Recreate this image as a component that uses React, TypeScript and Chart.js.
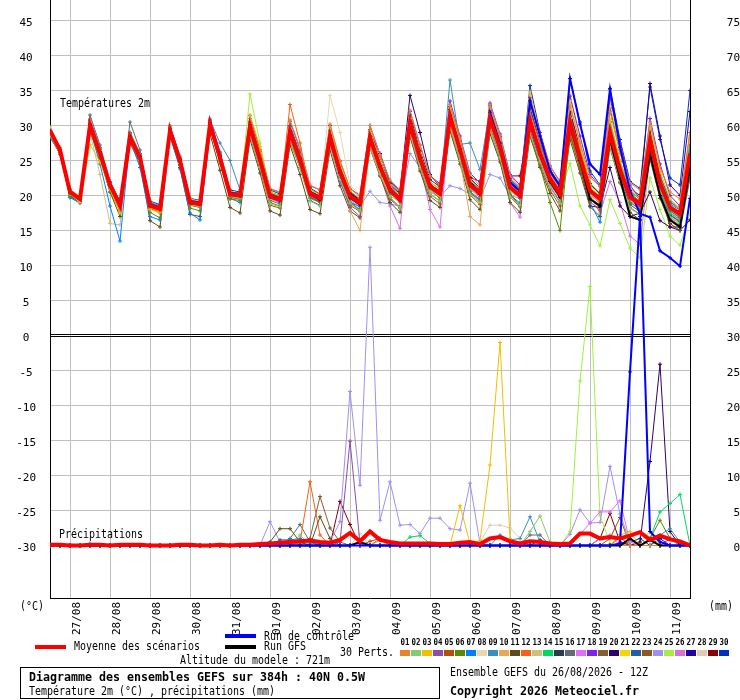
import { useEffect, useRef } from 'react';
import { Chart, registerables } from 'chart.js';

Chart.register(...registerables);

const FONT = '"DejaVu Sans Mono", "Liberation Mono", monospace';

// forecast steps (hours after 26/08 12Z)
const hours = [
  0, 6, 12, 18, 24, 30, 36, 42, 48, 54, 60, 66, 72, 78, 84, 90,
  96, 102, 108, 114, 120, 126, 132, 138, 144, 150, 156, 162, 168, 174, 180, 186,
  192, 198, 204, 210, 216, 222, 228, 234, 240, 246, 252, 258, 264, 270, 276, 282,
  288, 294, 300, 306, 312, 318, 324, 330, 336, 342, 348, 354, 360, 366, 372, 378,
  384,
];
const dayHours = [12, 36, 60, 84, 108, 132, 156, 180, 204, 228, 252, 276, 300, 324, 348, 372];
const dayLabels = ['27/08', '28/08', '29/08', '30/08', '31/08', '01/09', '02/09', '03/09',
  '04/09', '05/09', '06/09', '07/09', '08/09', '09/09', '10/09', '11/09'];
const tempTicks = [-30, -25, -20, -15, -10, -5, 0, 5, 10, 15, 20, 25, 30, 35, 40, 45];
const precipTicks = [0, 5, 10, 15, 20, 25, 30, 35, 40, 45, 50, 55, 60, 65, 70, 75];

// 2m temperature (°C)
const tMean = [
  29.3,26.5,20.5,19.5, 30.0,26.0,21.5,18.6, 28.3,25.4,18.6,18.1, 29.3,25.0,19.0,18.8,
  30.2,25.4,20.2,20.0, 29.9,25.1,19.9,19.4, 29.1,25.1,20.3,19.6, 28.4,23.4,19.9,18.9,
  28.3,24.1,20.8,19.4, 30.3,25.3,21.3,20.3, 31.3,26.5,21.5,20.3, 31.0,26.9,21.2,20.0,
  30.7,26.0,22.4,20.2, 30.5,25.5,20.7,19.5, 29.0,23.6,19.8,18.8, 27.9,21.7,18.3,17.4,
  26.0,
];
const tCtrl = [
  29.2,26.5,20.5,19.5, 30.2,26.2,21.6,18.8, 28.5,25.6,18.8,18.3, 29.5,25.2,19.2,19.0,
  30.4,25.6,20.4,20.2, 30.1,25.3,20.1,19.6, 29.3,25.3,20.5,19.8, 28.6,23.6,20.1,19.1,
  28.5,24.3,21.0,19.6, 30.5,25.5,21.5,20.5, 31.5,26.7,21.7,20.5, 31.9,27.5,21.9,20.6,
  33.5,28.5,23.5,21.3, 36.7,30.2,24.5,23.0, 35.2,26.9,20.7,17.4, 16.9,12.1,11.1,9.9,
  19.6,
];
const tGfs = [
  29.2,26.4,20.4,19.5, 30.1,26.1,21.4,18.5, 28.3,25.4,18.5,18.0, 29.2,24.9,18.9,18.7,
  30.1,25.3,20.1,19.9, 29.8,25.0,19.8,19.3, 29.0,25.0,20.2,19.4, 28.2,23.2,19.7,18.7,
  28.2,24.0,20.7,19.3, 30.2,25.2,21.2,20.2, 31.2,26.4,21.4,20.2, 30.9,26.8,21.1,19.9,
  30.3,25.8,22.0,19.8, 30.0,25.0,19.5,18.5, 28.0,22.5,17.0,16.5, 26.0,20.0,16.5,15.5,
  24.0,
];
const t01 = [
  29.5,26.8,20.3,19.8, 30.8,26.5,21.0,18.0, 28.8,25.9,18.2,17.8, 29.6,25.3,19.4,19.0,
  30.6,25.0,20.6,20.2, 31.0,26.3,21.0,20.5, 30.8,26.8,21.5,20.8, 30.2,25.0,21.0,19.8,
  30.0,25.8,22.2,20.8, 32.2,27.2,22.8,21.5, 33.0,28.2,23.0,21.3, 33.0,28.6,22.8,21.2,
  33.5,28.4,24.3,21.8, 32.8,27.6,22.6,21.3, 32.0,26.0,21.8,20.8, 30.5,24.0,20.5,19.5,
  29.0,
];
const t02 = [
  29.0,26.3,20.7,19.3, 29.4,25.7,21.3,18.3, 28.0,25.1,18.9,18.4, 29.1,24.6,18.7,18.4,
  29.8,25.1,19.9,19.6, 28.5,24.0,18.8,18.4, 27.8,23.9,19.2,18.5, 27.0,22.3,18.9,17.8,
  26.8,23.0,19.8,18.2, 28.8,24.0,20.2,19.2, 29.8,25.0,20.2,19.0, 29.3,25.4,19.8,18.6,
  28.9,24.8,21.2,18.9, 31.2,26.5,21.2,19.0, 27.0,22.0,18.2,17.2, 26.0,20.2,16.8,16.0,
  24.0,
];
const t03 = [
  28.6,26.0,20.2,19.0, 27.3,24.8,20.9,17.5, 27.8,25.0,18.0,17.6, 29.8,25.5,19.5,19.2,
  30.0,25.6,20.4,20.3, 31.5,27.0,20.5,19.9, 29.5,25.3,20.8,20.0, 28.9,24.5,20.7,19.5,
  29.3,25.0,21.4,20.0, 31.0,26.0,21.9,21.0, 32.5,27.5,22.2,20.9, 32.4,28.0,22.0,20.6,
  34.8,28.5,23.0,21.0, 33.5,27.0,21.5,20.0, 30.9,25.0,20.8,19.5, 30.0,23.5,19.5,18.0,
  28.5,
];
const t04 = [
  29.1,26.4,20.9,19.4, 29.8,25.8,21.8,18.9, 28.5,25.7,18.8,18.3, 29.5,25.1,19.2,18.6,
  30.5,25.8,20.1,19.8, 30.1,25.0,20.1,19.3, 28.8,24.4,20.0,19.2, 27.5,22.0,18.3,17.0,
  28.0,24.4,20.4,19.2, 30.1,25.0,21.5,20.5, 31.0,26.3,21.7,19.9, 31.4,27.1,21.5,19.8,
  30.4,26.3,22.0,19.8, 29.8,25.2,20.4,19.2, 28.5,23.3,19.5,18.4, 27.0,21.2,18.0,17.0,
  25.2,
];
const t05 = [
  29.2,26.6,20.4,19.6, 30.3,26.3,21.0,18.2, 27.9,24.9,18.3,17.6, 28.8,24.5,18.6,18.3,
  29.6,24.9,19.7,19.5, 28.6,23.8,18.6,18.2, 27.6,24.0,19.8,19.0, 27.2,22.3,18.6,17.7,
  26.8,22.8,19.5,18.2, 28.6,23.8,19.9,18.8, 29.6,24.9,20.1,18.7, 29.3,25.2,19.8,18.4,
  29.0,24.4,20.8,18.5, 28.6,23.8,19.1,17.9, 27.2,21.9,18.3,17.3, 25.8,20.0,16.7,15.7,
  23.0,
];
const t06 = [
  28.8,26.2,20.0,19.2, 29.2,25.2,20.5,17.8, 28.9,25.6,17.6,16.8, 28.5,24.3,18.2,17.8,
  29.8,24.6,19.5,19.3, 29.0,24.3,19.0,18.5, 28.2,24.0,19.6,19.0, 28.9,23.5,19.0,18.0,
  28.7,24.0,20.2,19.6, 30.5,25.5,21.0,19.5, 31.5,26.6,20.6,19.4, 30.5,26.0,20.2,18.5,
  28.6,24.2,19.0,15.0, 29.0,24.0,19.5,18.7, 28.0,23.0,19.0,18.0, 27.2,21.5,17.8,16.8,
  24.8,
];
const t07 = [
  28.3,26.0,19.7,18.9, 29.5,24.5,18.5,13.5, 28.0,24.0,17.0,16.5, 28.6,23.8,17.5,16.5,
  29.5,25.0,19.6,19.0, 30.5,25.7,20.0,19.0, 29.9,25.4,19.8,19.1, 28.0,23.0,19.0,18.4,
  28.8,24.3,20.5,19.3, 30.6,25.9,21.4,20.6, 31.8,27.0,21.9,20.5, 31.5,27.0,21.3,19.6,
  31.0,26.3,22.2,19.9, 30.0,24.5,19.0,16.2, 29.4,23.9,19.9,19.0, 28.3,22.2,18.8,17.9,
  26.5,
];
const t08 = [
  29.6,26.9,20.6,19.7, 30.4,26.2,21.6,18.8, 28.2,25.3,18.7,18.2, 29.0,24.7,19.1,18.9,
  30.0,25.2,20.3,20.1, 29.6,24.9,19.8,19.5, 28.9,25.0,20.1,19.5, 34.3,29.0,21.5,20.1,
  29.0,24.7,21.1,19.8, 30.0,25.0,21.1,20.2, 30.5,25.8,21.2,20.0, 30.6,26.5,21.6,20.3,
  30.2,25.6,22.6,20.6, 31.0,26.0,21.0,19.8, 28.6,23.4,19.6,18.6, 27.5,21.8,18.6,17.6,
  25.6,
];
const t09 = [
  28.9,26.3,20.3,19.5, 30.2,26.6,21.4,18.5, 28.6,25.8,18.5,18.0, 29.2,24.9,19.3,19.1,
  30.8,27.5,25.0,20.8, 29.7,25.3,20.0,19.6, 29.3,25.6,20.5,19.7, 28.7,23.8,20.1,19.1,
  28.5,24.2,20.9,19.6, 30.4,25.6,21.6,20.4, 36.5,27.3,27.5,23.7, 32.5,27.8,22.1,20.9,
  31.4,26.8,22.9,20.8, 30.8,25.9,21.0,19.9, 29.8,24.3,20.3,19.2, 28.6,22.6,19.0,18.1,
  27.0,
];
const t10 = [
  29.4,26.7,20.8,19.8, 30.6,26.4,21.7,19.0, 28.4,25.5,18.4,17.9, 29.4,25.2,19.0,18.7,
  30.3,25.6,20.0,19.8, 30.0,25.2,20.2,19.7, 29.6,25.8,20.7,20.2, 29.8,24.5,17.8,15.0,
  27.0,23.4,20.0,19.0, 29.9,24.6,20.6,19.8, 30.2,25.0,17.0,15.8, 30.0,26.0,20.6,19.6,
  30.5,25.6,21.8,19.6, 30.2,25.3,20.3,19.0, 28.8,23.5,19.6,18.5, 27.7,21.5,18.1,17.1,
  25.8,
];
const t11 = [
  28.5,25.9,19.8,19.1, 29.6,25.4,20.5,17.0, 27.5,24.6,16.4,15.5, 28.5,24.0,17.3,17.0,
  28.8,23.6,18.3,17.5, 28.0,23.2,17.8,17.2, 27.2,23.0,18.0,17.4, 26.5,21.4,17.8,16.8,
  26.8,22.8,19.0,17.6, 28.4,23.5,19.3,18.3, 29.2,24.5,19.4,18.0, 28.8,24.8,19.0,17.6,
  28.5,24.0,20.3,17.8, 28.0,23.2,18.4,17.0, 26.8,21.8,17.6,16.5, 25.2,19.6,16.0,15.0,
  22.5,
];
const t12 = [
  29.4,26.6,20.6,19.6, 30.3,26.0,21.4,18.7, 28.6,25.6,18.9,18.4, 29.4,25.2,19.2,19.0,
  30.4,25.7,20.4,20.2, 30.2,25.4,20.2,19.7, 33.0,27.5,20.6,19.8, 28.2,23.2,19.7,18.8,
  28.5,24.2,20.7,19.3, 30.8,25.8,21.6,20.6, 31.6,26.8,21.8,20.6, 31.2,27.2,21.6,20.4,
  32.0,27.5,23.0,21.2, 31.0,26.0,21.0,19.8, 29.5,24.0,20.1,19.1, 28.2,22.0,18.6,17.6,
  26.8,
];
const t13 = [
  29.0,26.4,20.5,19.4, 29.0,23.0,16.0,15.8, 27.6,24.8,18.0,17.5, 29.0,24.8,18.8,18.5,
  30.1,25.3,20.1,19.9, 29.8,25.0,19.7,19.2, 29.0,25.0,20.2,19.5, 28.6,23.6,20.0,19.0,
  28.1,24.0,20.6,19.3, 30.0,25.1,21.2,20.1, 31.2,26.4,21.4,20.2, 30.8,26.7,21.1,19.9,
  30.6,25.9,22.3,20.1, 29.0,24.0,20.0,19.0, 28.4,23.2,19.3,18.3, 27.0,21.0,17.8,16.8,
  24.5,
];
const t14 = [
  29.2,26.5,20.6,19.5, 30.1,26.1,21.6,18.8, 28.4,25.5,18.7,18.2, 29.3,25.0,19.0,18.8,
  30.3,25.5,20.3,20.1, 30.6,25.8,20.5,20.0, 29.4,25.4,20.5,19.8, 28.5,23.6,20.0,19.0,
  28.4,24.1,20.8,19.5, 30.2,25.3,21.3,20.3, 31.0,26.2,21.3,20.1, 31.8,27.4,21.6,20.4,
  31.2,26.5,22.8,20.6, 30.4,25.4,20.6,19.4, 30.5,24.8,20.5,19.5, 26.5,20.5,17.5,16.5,
  23.5,
];
const t15 = [
  28.7,26.1,20.2,19.3, 30.5,26.3,21.3,18.4, 28.3,25.3,18.5,18.0, 29.2,24.9,18.9,18.6,
  30.2,25.4,20.0,19.7, 31.0,26.0,20.8,20.2, 30.0,26.0,21.1,20.2, 29.3,24.2,20.5,19.5,
  29.4,25.1,21.7,20.3, 31.5,26.4,22.3,21.2, 32.3,27.4,22.4,21.1, 32.2,28.0,22.2,20.9,
  32.4,27.5,23.4,21.2, 31.8,26.6,21.7,20.2, 30.5,24.9,20.8,19.4, 29.2,22.8,19.2,18.0,
  27.2,
];
const t16 = [
  29.3,26.6,20.7,19.6, 31.5,27.2,22.0,19.0, 30.5,26.5,19.0,18.5, 29.7,25.4,19.3,19.0,
  30.6,25.8,20.5,20.3, 30.0,25.2,20.0,19.4, 29.0,25.0,20.2,19.5, 28.2,23.3,19.8,18.8,
  28.3,24.0,20.7,19.3, 30.0,25.1,21.2,20.2, 31.1,26.3,21.4,20.2, 30.9,26.8,21.1,19.9,
  30.6,25.8,22.2,20.0, 30.3,25.3,20.5,19.3, 28.8,23.4,19.6,18.6, 27.6,21.4,18.0,17.1,
  25.5,
];
const t17 = [
  28.9,26.2,20.4,19.3, 29.9,25.9,21.2,18.3, 28.1,25.2,18.3,17.8, 29.0,24.7,18.7,18.4,
  29.9,25.0,19.8,19.6, 29.5,24.8,19.5,19.0, 28.7,24.6,19.8,19.1, 28.0,23.0,19.3,18.4,
  28.0,23.8,20.4,19.0, 29.5,24.5,18.0,15.5, 30.6,25.7,20.9,19.7, 30.4,26.0,19.0,16.9,
  29.9,25.3,21.6,19.5, 29.5,24.6,19.8,18.6, 28.2,22.9,19.1,18.1, 26.9,21.0,17.6,16.6,
  24.6,
];
const t18 = [
  29.3,26.5,20.5,19.7, 30.2,26.2,21.7,18.9, 28.7,25.8,18.9,18.4, 29.6,25.3,19.3,19.1,
  30.7,25.9,20.5,20.3, 31.4,26.5,21.0,20.4, 30.6,26.6,21.4,20.8, 30.0,24.9,21.0,20.0,
  30.0,25.8,22.0,20.7, 32.0,27.2,22.8,21.7, 33.5,28.5,23.2,21.8, 33.2,28.8,23.0,21.5,
  34.0,29.0,24.2,22.0, 34.2,28.5,23.0,21.3, 34.0,27.5,21.5,19.5, 31.0,24.5,20.0,18.5,
  29.0,
];
const t19 = [
  28.9,26.3,20.2,19.4, 29.7,25.5,20.9,18.0, 28.1,25.0,18.2,17.5, 29.0,24.6,18.8,18.5,
  29.9,25.0,19.9,19.7, 28.5,24.0,19.3,18.8, 28.0,24.5,20.0,19.3, 28.0,23.2,19.6,18.6,
  27.8,23.7,20.4,19.0, 29.8,24.9,21.0,19.9, 30.8,26.0,21.1,19.8, 30.6,26.4,20.8,19.6,
  30.3,25.5,21.9,19.7, 29.6,24.7,20.1,18.9, 28.3,23.0,19.3,18.3, 27.1,21.1,17.8,16.9,
  24.9,
];
const t20 = [
  29.0,26.4,20.4,19.6, 30.4,26.4,21.8,19.0, 28.5,25.5,18.8,18.3, 29.5,25.2,19.3,19.0,
  30.6,25.8,20.5,20.3, 30.3,25.5,20.3,19.8, 29.4,25.5,20.6,20.0, 28.8,23.9,20.3,19.4,
  29.0,26.0,22.0,20.6, 34.3,29.0,23.0,21.2, 31.8,27.0,22.0,20.8, 31.5,27.4,21.7,20.4,
  30.9,26.2,22.6,20.4, 29.0,24.0,18.5,18.3, 24.0,18.5,17.0,17.5, 20.5,16.4,15.5,15.0,
  16.5,
];
const t21 = [
  29.5,26.7,20.7,19.7, 30.5,26.7,22.0,19.1, 28.9,25.9,19.0,18.5, 29.8,25.5,19.4,19.1,
  30.8,26.0,20.6,20.3, 31.0,26.0,20.3,19.8, 29.7,25.8,20.8,20.1, 29.2,24.2,20.3,19.3,
  29.1,24.8,21.2,19.9, 31.2,26.2,21.9,20.8, 32.5,27.6,22.2,20.8, 32.6,28.2,22.0,20.5,
  33.8,28.0,23.4,21.0, 34.5,27.5,21.8,20.3, 33.0,26.5,21.0,19.8, 29.5,23.0,19.5,18.2,
  28.2,
];
const t22 = [
  28.6,26.0,20.1,19.2, 29.6,25.6,21.1,18.2, 28.0,25.0,18.4,17.9, 28.9,24.6,18.8,18.5,
  29.8,25.1,19.9,19.6, 29.5,24.7,19.6,19.1, 28.0,24.0,19.3,18.6, 27.3,22.4,18.9,17.9,
  27.2,23.0,19.7,18.3, 29.0,24.2,20.2,19.2, 30.0,25.3,20.5,19.2, 29.8,25.7,20.1,18.9,
  29.5,24.8,21.3,19.1, 29.2,24.2,19.6,18.3, 27.8,22.5,18.7,17.7, 26.6,20.6,17.3,16.3,
  24.3,
];
const t23 = [
  29.1,26.5,20.5,19.5, 30.1,26.0,21.4,18.5, 28.3,25.4,18.6,18.1, 29.2,24.9,18.9,18.7,
  30.1,25.3,20.1,19.9, 29.8,25.0,19.8,19.3, 28.9,24.9,20.2,19.5, 28.4,23.4,19.8,18.9,
  28.2,24.0,20.7,19.3, 30.2,25.2,21.3,20.2, 31.2,26.4,21.4,20.2, 30.9,26.8,21.1,19.9,
  30.6,25.9,22.3,20.1, 30.4,25.4,20.6,19.4, 28.9,23.5,19.7,18.7, 27.0,21.0,17.2,16.2,
  25.0,
];
const t24 = [
  29.2,26.4,20.6,19.5, 30.0,26.1,21.5,18.6, 28.3,25.4,18.6,18.1, 29.3,25.0,19.0,18.8,
  30.2,25.4,20.2,20.0, 29.9,25.1,19.9,19.4, 28.8,24.6,20.0,19.3, 27.5,22.5,19.0,18.5,
  20.6,19.0,18.8,18.5, 26.0,24.0,20.5,19.8, 21.4,21.0,20.2,19.5, 23.0,22.5,20.0,19.6,
  29.0,25.0,21.5,19.8, 30.0,25.0,20.4,19.2, 28.5,23.0,19.5,18.6, 27.4,21.4,18.2,17.2,
  25.3,
];
const t25 = [
  29.8,26.9,20.9,19.9, 30.5,26.3,21.6,18.7, 28.6,25.6,18.8,18.3, 29.4,25.1,19.1,18.9,
  30.4,25.6,20.4,20.2, 34.5,27.5,20.6,19.8, 29.0,25.0,20.2,19.4, 28.3,23.3,19.8,18.8,
  28.4,24.2,20.9,19.5, 30.4,25.4,21.4,20.4, 31.4,26.6,21.6,20.4, 31.1,27.0,21.3,20.1,
  30.8,26.1,22.5,20.3, 24.6,18.5,15.8,12.8, 19.4,16.0,12.5,11.1, 22.5,18.0,14.2,12.9,
  17.4,
];
const t26 = [
  28.8,26.2,20.3,19.4, 29.9,25.8,21.3,18.4, 28.2,25.3,18.4,17.9, 29.1,24.8,18.8,18.5,
  30.0,25.2,20.0,19.8, 29.6,24.9,19.6,19.1, 28.8,24.8,20.1,19.3, 28.1,23.1,19.5,18.6,
  27.8,23.0,18.5,15.3, 30.0,25.0,21.0,20.0, 31.0,26.2,21.2,20.0, 30.8,26.6,21.0,19.8,
  30.5,25.8,22.2,20.0, 30.0,25.0,20.0,17.5, 22.0,19.0,14.2,13.0, 25.5,20.5,17.0,16.0,
  23.0,
];
const t27 = [
  28.7,26.0,20.0,19.0, 30.7,26.5,21.5,18.5, 28.4,25.4,18.7,18.2, 29.3,25.0,19.1,18.9,
  30.3,25.5,20.3,20.1, 29.9,25.1,20.0,19.5, 29.2,25.2,20.4,19.7, 28.5,23.5,20.0,19.0,
  28.4,24.2,20.9,19.5, 30.4,25.4,21.4,20.4, 31.7,26.9,21.8,20.6, 31.7,27.6,21.8,20.6,
  32.5,27.5,23.2,21.0, 32.0,26.8,21.5,20.4, 32.5,26.5,21.0,20.0, 36.0,28.5,21.5,20.0,
  32.0,
];
const t28 = [
  29.4,26.6,20.6,19.6, 30.2,26.2,21.6,18.7, 28.4,25.5,18.7,18.2, 29.2,24.8,19.0,18.8,
  30.0,25.3,20.2,20.0, 29.9,25.0,19.9,19.4, 29.1,25.1,20.3,19.6, 28.4,23.4,20.0,18.9,
  28.3,24.1,20.8,19.4, 30.3,25.3,21.3,20.3, 31.3,26.4,21.5,20.3, 30.8,26.8,21.2,20.0,
  30.4,25.8,22.2,20.0, 30.0,25.2,20.5,19.3, 28.6,23.2,19.6,18.5, 27.5,21.5,18.5,17.5,
  25.8,
];
const t29 = [
  29.0,26.3,20.4,19.4, 29.9,25.9,21.5,18.6, 28.2,25.3,18.6,18.1, 29.2,24.9,19.0,18.8,
  30.2,25.5,20.3,20.0, 29.9,25.1,19.9,19.4, 29.0,25.2,20.4,19.7, 28.3,23.5,20.2,19.2,
  28.6,24.5,21.4,20.3, 30.4,25.5,21.6,20.6, 31.5,26.8,22.6,22.0, 31.2,27.3,22.8,22.8,
  30.8,26.2,22.8,20.7, 30.3,25.5,20.8,19.6, 28.8,23.6,19.8,18.8, 27.0,21.0,15.5,15.5,
  24.0,
];
const t30 = [
  29.1,26.4,20.5,19.5, 30.9,26.8,22.0,19.2, 29.0,26.0,19.2,18.7, 29.9,25.6,19.6,19.3,
  30.9,26.2,20.8,20.5, 30.5,25.7,20.4,19.9, 29.8,25.9,20.8,20.2, 29.1,24.0,20.4,19.4,
  29.2,24.9,21.3,20.0, 31.3,26.3,21.9,20.9, 32.7,27.8,22.5,21.0, 32.8,28.4,22.4,21.0,
  35.7,29.0,23.8,21.5, 36.7,30.5,23.5,21.5, 35.3,28.0,22.0,21.0, 35.5,28.0,22.5,21.5,
  35.0,
];

// precipitation (mm per 6h)
const pMean = [
  0.1,0.1,0,0, 0.1,0.1,0,0.1, 0.1,0.1,0,0, 0,0.1,0.1,0,
  0,0.1,0,0.1, 0.1,0.2,0.3,0.4, 0.5,0.6,0.7,0.5, 0.4,0.8,1.8,0.6,
  2,0.8,0.5,0.3, 0.3,0.3,0.3,0.2, 0.2,0.4,0.5,0.2, 1,1.2,0.6,0.3,
  0.6,0.5,0.3,0.2, 0.3,1.7,1.7,1, 1.2,1,1.4,1.9, 0.8,1.4,0.9,0.6,
  0,
];
const pCtrl = [
  0,0,0,0, 0,0,0,0, 0,0,0,0, 0,0,0,0,
  0,0,0,0, 0,0,0,0, 0,0,0,0, 0,0,0,0,
  0,0,0,0, 0,0,0,0, 0,0,0,0, 0,0,0,0,
  0,0,0,0, 0,0,0,0, 0,0.3,24.8,47, 2,0.5,0,0,
  0,
];
const pGfs = [
  0,0,0,0, 0,0,0,0, 0,0,0,0, 0,0,0,0,
  0,0,0,0, 0,0,0,0, 0,0,0,0, 0,0,0,0.5,
  0,0,0,0, 0,0,0,0, 0,0,0,0, 0,0,0,0,
  0,0,0,0, 0,0,0,0, 0,0,1,0, 0.8,0,0,0,
  0,
];
const p01 = [
  0,0,0,0, 0,0,0,0, 0,0,0,0, 0,0,0,0,
  0,0,0,0, 0,0,0,0, 0,0,0,0, 0,0,0,0,
  0,0.8,0.5,0, 0,0,0,0, 0,0,0,0, 0,0,0,0,
  0,0,0,0, 0,0,0,0, 0,0,0,0, 0,0,0,0,
  0,
];
const p02 = [
  0,0,0,0, 0,0,0,0, 0,0,0,0, 0,0,0,0,
  0,0,0,0, 0,0,0,0, 0,1.5,0,0, 0,0,0,0,
  0,0,0,0, 0,0,0,0, 0,0,0,0, 0,0,0,0,
  2,4.2,0.5,0, 0,0,0,0, 0,0,0,0, 0,0,0,0,
  0,
];
const p03 = [
  0,0,0,0, 0,0,0,0, 0,0,0,0, 0,0,0,0,
  0,0,0,0, 0,0,0,0, 0,0,0,0, 0,0,0,0,
  0,0,0,0, 0,0,0,0, 0,5.7,0.3,0.7, 11.5,29,1,0,
  0,0,0,0, 0,0,0,0, 0,1.5,2,0, 0,0,0,0,
  0,
];
const p04 = [
  0,0,0,0, 0,0,0,0, 0,0,0,0, 0,0,0,0,
  0,0,0,0, 0,0,0,0, 0,0,0,0, 0,0.5,14.9,0.3,
  0,0,0,0, 0,0,0,0, 0,0,0,0, 0,0,0,0,
  0,0,0,0, 0,0,0,0, 0,0,0,0, 0,0,0,0,
  0,
];
const p05 = [
  0,0,0,0, 0,0,0,0, 0,0,0,0, 0,0,0,0,
  0,0,0,0, 0,0,0,0, 0,0,0,0, 0,0,0,0,
  0.6,1,0,0, 0,0,0,0, 0,0,0,0, 0,0,0,0,
  0,0,0,0, 0,0,0,0, 0,1.2,0,0, 0,0,0,0,
  0,
];
const p06 = [
  0,0,0,0, 0,0,0,0, 0,0,0,0, 0,0,0,0,
  0,0,0,0, 0,0,0,0, 0,0,0,0, 0,0,0,0,
  0,0,0,0, 0,0,0,0, 0,0,0,0, 0,0,0,0,
  0,0,0,0, 0,0,0,0, 0,0,0,0, 1,3.6,1,0,
  0,
];
const p07 = [
  0,0,0,0, 0.3,0,0,0, 0,0,0,0, 0,0,0,0,
  0,0,0,0, 0,0,0,0, 0.8,1,0.5,0, 0,0,0,0,
  0,0,0,0, 0,0,0,0, 0,0,0,0, 0,0,0,0,
  0,0,0,0, 0,0,0,0, 0,0,0,0, 0,0,0,0,
  0,
];
const p08 = [
  0,0,0,0, 0,0,0,0, 0,0,0,0, 0,0,0,0,
  0,0,0,0, 0,0,0,0, 0,0,0,0, 0,0,0,1.7,
  0,0,0,0, 0,0,0,0, 0,0,0,0, 0,0,0,0,
  0,0,0,0, 0,0,0,0, 0,0,0,0, 0,0,0,0,
  0,
];
const p09 = [
  0,0,0,0, 0,0,0,0, 0,0,0,0, 0,0,0,0,
  0,0,0,0, 0,0,0,0, 0,0,0,0, 0,0,0,0,
  0,0,0,0, 0,0,0,0, 0,0,0,0, 0,1.5,0.8,1,
  4.1,0.5,0,0, 0,0,0,0, 0,0,0,0, 0,1.5,2.4,0.5,
  0,
];
const p10 = [
  0,0,0,0, 0,0,0,0, 0,0,0,0, 0,0,0,0,
  0,0,0,0, 0,0,0,0, 0,0,0,0, 0,0,0,0,
  0,0,0.5,0, 0,0,0,0, 0,0,0,0, 0,0,0,0,
  0,0,0,0, 0,0,0,0, 0,0,0,0, 1,0,0,0,
  0,
];
const p11 = [
  0,0,0,0, 0,0,0,0, 0,0,0,0, 0,0,0,0,
  0,0,0,0, 0,0,0.5,2.4, 2.4,0.5,0,4.1, 1,0,0,0,
  0,0,0,0, 0,0,0,0, 0,0,0,0, 0,0,0,0,
  0,0,0,0, 0,0,0,0, 0,0,0,0, 0,0,0,0,
  0,
];
const p12 = [
  0,0,0,0, 0,0,0,0, 0,0,0,0, 0,0,0,0,
  0,0,0,0, 0,0,0,0, 0,0.5,9.1,1.5, 0,0,0,0,
  0,1,0,0, 0,0,0,0, 0,0,0,0, 0,0,0,0,
  0,0,0,0, 0,0,0,0, 0,0,0,0, 0,0,0,0,
  0,
];
const p13 = [
  0,0,0,0, 0,0,0,0, 0,0,0,0, 0,0,0,0,
  0,0,0,0, 0,0,0,0, 0,0,0,0, 0,0,0,0,
  0,0,0,0, 0,0,0,0, 0,0,0,0, 0,0,0,0,
  0,0,0.5,0, 0,0,0,0, 0,0,0,0, 0,0,0,0,
  0,
];
const p14 = [
  0,0,0,0, 0,0,0,0, 0,0,0,0, 0,0,0,0,
  0,0,0,0, 0,0,0,0, 0,0,0,0, 0,0,0,0,
  0,0,0,0, 1.2,1.4,0.3,0, 0,0,0,0, 0,0,0,0,
  0,0,0,0, 0,0,0,0, 0,0,0,0, 1,4.8,6,7.3,
  0,
];
const p15 = [
  0,0,0,0, 0,0,0,0, 0,0,0,0, 0,0,0,0,
  0,0,0,0, 0,0,0,0, 0,0,0,0, 0,0,0,0,
  0,0,0,0, 0,0,0,0, 0,0,0,0, 0,0,0,0,
  0,0.8,0,0, 0,0,0,0, 0,0,0,0, 0,0,0,0,
  0,
];
const p16 = [
  0,0,0,0, 0,0,0,0, 0,0,0,0, 0,0,0,0,
  0,0,0,0, 0,0,0,0, 1,3,0.5,0, 0,0,0,0,
  0,0,0,0, 0,0,0,0, 0,0,0,0, 0,0,0,0,
  1.5,1.5,0,0, 0,0,0,0, 0,0,0,0, 0,0,0,0,
  0,
];
const p17 = [
  0,0,0,0, 0,0,0,0, 0,0,0,0, 0,0,0,0,
  0,0,0,0, 0,0,0,0, 0,0,0,0, 0,0,0,0,
  0,0,0,0, 0,0,0,0, 0,0,0,0, 0,0,0,0,
  0,0,0,0, 0,1.6,3.2,4.8, 4.8,6.4,0.5,0, 0,0,0,0,
  0,
];
const p18 = [
  0,0,0,0, 0,0,0,0, 0,0,0,0, 0,0,0,0,
  0,0,0,0, 0,0,0,0, 0,0,0,0, 0,0,0,0,
  0,0,0,0, 0,0,0,0, 0,0,0,0, 0,0,0,0,
  0,0,0,0, 0,0,0,0, 0,0,0,0, 0,0,1,0,
  0,
];
const p19 = [
  0,0,0,0, 0,0,0,0, 0,0,0,0, 0,0,0,0,
  0,0,0,0, 0,0,0,0, 0,0,1,7, 2.5,0.5,0,0,
  0,0,0,0, 0,0,0,0, 0,0,0,0, 0,0,0,0,
  0,0,0,0, 0,0,0,0, 0,0,0,0, 0,0,0,0,
  0,
];
const p20 = [
  0,0,0,0, 0,0,0,0, 0,0,0,0, 0,0,0,0,
  0,0,0,0, 0,0,0,0, 0,0,0,0, 0,0,0,0,
  0,0,0,0, 0,0,0,0, 0,0,0,0, 0,0,0,0,
  0,0,0,0, 0,0,0,0, 0,0,0,0.5, 12,25.9,2,0,
  0,
];
const p21 = [
  0,0,0,0, 0,0,0,0, 0,0,0,0, 0,0,0,0,
  0,0,0,0, 0,0,0,0, 0,0,0,0, 0,0,0,0,
  0,0,0,0, 0,0,0,0, 0,0,0,0, 0,0,0,0,
  0,0,0,0, 0,0,0,0, 0,0,0,0.5, 2,0,0,0,
  0,
];
const p22 = [
  0,0,0,0, 0,0,0,0, 0,0,0,0, 0,0,0,0,
  0,0,0,0, 0,0,0,0.8, 0.8,0,0,0, 0,0,0,0,
  0,0,0,0, 0,0,0,0, 0,0,0,0, 0,0,0,0,
  0,0,0,0, 0,0,0,0, 0,0,0,0, 0,0,0,0,
  0,
];
const p23 = [
  0,0,0,0, 0,0,0,0, 0,0,0,0, 0,0,0,0,
  0,0,0,0, 0,0,0,0, 0,0,0,0, 0,0,0,0,
  0,0,0,0, 0,0,0,0, 0,0,0,0, 0,0,0,0,
  0,0,0,0, 0,0,0,0, 1,4,0,0, 0,0,0,0,
  0,
];
const p24 = [
  0,0,0,0, 0,0,0,0, 0,0,0,0, 0,0,0,0,
  0,0,0,0, 0,0,3.4,0.5, 0.3,0.3,0.3,0.3, 0.5,3.4,22,8.6,
  42.6,3.6,9.1,2.9, 3,1.7,3.9,3.9, 2.4,2.2,8.9,0.3, 0,0,0,0,
  0,0,0,0, 1.6,5.1,3.2,3.3, 11.3,4.5,0.5,0, 0,0,0,0,
  0,
];
const p25 = [
  0,0,0,0, 0,0,0,0, 0,0,0,0, 0,0,0,0,
  0,0,0,0, 0,0,0,0, 0,0,0,0, 0,0,0,0,
  0,0,0,0, 0,0,0,0, 0,0,0,0, 0,0,0,0,
  0,0,0,0, 2,23.5,37,4.3, 0.3,0,0,0, 0,0,0,0,
  0,
];
const p26 = [
  0,0,0,0, 0,0,0,0, 0,0,0,0, 0,0,0,0,
  0,0,0,0, 0,0,0,0, 0,0,0,0, 0,0,0,0,
  0,0,0,0, 0,0,0,0, 0,0,0,0, 0,0,0,0,
  0,0,0,0, 0,0,0,1, 1.5,0,0,0, 0,0,0,0,
  0,
];
const p27 = [
  0,0,0,0, 0,0,0,0, 0,0,0,0, 0,0,0,0,
  0,0,0,0, 0,0,0,0, 0,0,0,0, 0,0,0,0,
  0,0,0,0, 0,0,0,0, 0,0,0,0, 0,0,0,0,
  0,0,0,0, 0,0,0,0, 0,0,0,0, 0,1,0,0,
  0,
];
const p28 = [
  0,0,0,0, 0,0,0,0, 0,0,0,0, 0,0,0,0,
  0,0,0,0, 0,0,0,0, 0,0,0,0, 0,0,0,0,
  0,0,0,0, 0,0,0,0, 0,0,0,0.5, 2.9,2.9,2.5,1,
  0,0,0,0, 0,0,0,0, 0,0,0,0, 0,0,0,0,
  0,
];
const p29 = [
  0,0,0,0, 0,0,0,0, 0,0,0,0, 0,0,0,0,
  0,0,0,0, 0,0,0,0, 0,0,0,0, 0,6.3,3,0,
  0,0,0,0, 0,0,0,0, 0,0,0,0, 0,0,0,0,
  0,0,0,0, 0,0,0,1, 4.6,0.5,0,0, 0,0,0,0,
  0,
];
const p30 = [
  0,0,0,0, 0,0,0,0, 0,0,0,0, 0,0,0,0,
  0,0,0,0, 0,0,0,0, 0,0,0,0, 0,0,0,0,
  0,0,0,0, 0,0,0,0, 0,0,0,0, 0,0,0,0,
  0,0,0,0, 0,0,0,0, 0,0,0.5,1, 0,0,0,0,
  0,
];

const memberColors = [
  '#e8822e', '#88c870', '#f0c000', '#8a4fa8', '#b04e0a', '#5a8a00', '#0080ff', '#e8d8b0',
  '#3a8ebe', '#e8a858', '#604a18', '#f86018', '#d0c080', '#00d860', '#244050', '#606c78',
  '#e070f8', '#8020f0', '#806030', '#300068', '#f0d800', '#2060a0', '#905820', '#a090f0',
  '#a0f040', '#d870d8', '#2000a0', '#e0ccb0', '#880000', '#0030c0',
];
const memberTemps = [t01, t02, t03, t04, t05, t06, t07, t08, t09, t10, t11, t12, t13, t14, t15,
  t16, t17, t18, t19, t20, t21, t22, t23, t24, t25, t26, t27, t28, t29, t30];
const memberPrecip = [p01, p02, p03, p04, p05, p06, p07, p08, p09, p10, p11, p12, p13, p14, p15,
  p16, p17, p18, p19, p20, p21, p22, p23, p24, p25, p26, p27, p28, p29, p30];

function drawText(ctx: CanvasRenderingContext2D, s: string, x: number, y: number, opts: any = {}) {
  const { bold = false, size = 12, charW = 6, align = 'left' } = opts;
  ctx.save();
  ctx.font = `${bold ? 'bold ' : ''}${size}px ${FONT}`;
  const k = charW / ctx.measureText('0').width;
  ctx.translate(x, y);
  ctx.scale(k, 1);
  ctx.fillStyle = '#000';
  ctx.textAlign = align;
  ctx.textBaseline = 'middle';
  ctx.fillText(s, 0, 0);
  ctx.restore();
}

const decor = {
  id: 'decor',
  beforeDatasetsDraw(chart: any) {
    const { ctx, chartArea: a, scales } = chart;
    const y0 = Math.floor(scales.y.getPixelForValue(0)) + 0.5;
    ctx.save();
    ctx.strokeStyle = '#000';
    ctx.lineWidth = 1;
    ctx.beginPath();
    ctx.moveTo(a.left, y0 - 1);
    ctx.lineTo(a.right, y0 - 1);
    ctx.moveTo(a.left, y0 + 1);
    ctx.lineTo(a.right, y0 + 1);
    ctx.stroke();
    ctx.restore();
    drawText(ctx, 'Températures 2m', a.left + 10, scales.y.getPixelForValue(33.1));
    drawText(ctx, 'Précipitations', a.left + 9, scales.y.getPixelForValue(-28.5));
  },
  afterDraw(chart: any) {
    const { ctx } = chart;
    drawText(ctx, '(°C)', 20, 607);
    drawText(ctx, '(mm)', 709, 607);

    ctx.save();
    ctx.fillStyle = '#ff0000';
    ctx.fillRect(35, 645, 31, 4);
    ctx.fillStyle = '#0000ff';
    ctx.fillRect(225, 634, 31, 4);
    ctx.fillStyle = '#000000';
    ctx.fillRect(225, 645, 31, 4);
    ctx.restore();
    drawText(ctx, 'Moyenne des scénarios', 74, 647);
    drawText(ctx, 'Run de contrôle', 264, 637);
    drawText(ctx, 'Run GFS', 264, 647);
    drawText(ctx, 'Altitude du modele : 721m', 180, 661);
    drawText(ctx, '30 Perts.', 340, 653);

    memberColors.forEach((c, k) => {
      ctx.save();
      ctx.fillStyle = c;
      ctx.fillRect(400 + 11 * k, 650, 10, 6);
      ctx.restore();
      drawText(ctx, String(k + 1).padStart(2, '0'), 405 + 11 * k, 643,
        { bold: true, size: 9, charW: 4.5, align: 'center' });
    });

    ctx.save();
    ctx.strokeStyle = '#000';
    ctx.lineWidth = 1;
    ctx.strokeRect(20.5, 667.5, 419, 31);
    ctx.restore();
    drawText(ctx, 'Diagramme des ensembles GEFS sur 384h : 40N 0.5W', 29, 677.5,
      { bold: true, size: 12, charW: 7 });
    drawText(ctx, 'Température 2m (°C) , précipitations (mm)', 29, 691.5);
    drawText(ctx, 'Ensemble GEFS du 26/08/2026 - 12Z', 450, 672.5);
    drawText(ctx, 'Copyright 2026 Meteociel.fr', 450, 692, { bold: true, size: 12, charW: 7 });
  },
};

function series(values: number[], color: string, width: number, axis: string, order: number, marks: boolean) {
  return {
    data: values.map((v, i) => ({ x: hours[i], y: v })),
    yAxisID: axis,
    borderColor: color,
    backgroundColor: color,
    borderWidth: width,
    pointRadius: marks ? 2 : 0,
    pointStyle: 'cross',
    pointBorderColor: color,
    pointBorderWidth: 1,
    tension: 0,
    fill: false,
    order,
  };
}

const tickFont = { family: FONT, size: 11 };

export default function App() {
  const canvasRef = useRef<HTMLCanvasElement>(null);
  const chartRef = useRef<Chart | null>(null);

  useEffect(() => {
    document.body.style.margin = '0';
    if (!canvasRef.current) return;
    const ctx = canvasRef.current.getContext('2d');
    if (!ctx) return;

    const datasets: any[] = [
      series(tMean, '#ff0000', 4, 'y', 0, false),
      series(pMean, '#ff0000', 4, 'yp', 0, false),
      series(tCtrl, '#0000ff', 2, 'y', 1, true),
      series(pCtrl, '#0000ff', 2, 'yp', 1, true),
      series(tGfs, '#000000', 2, 'y', 2, true),
      series(pGfs, '#000000', 2, 'yp', 2, true),
    ];
    memberColors.forEach((c, k) => {
      datasets.push(series(memberTemps[k], c, 1, 'y', 3, true));
      datasets.push(series(memberPrecip[k], c, 1, 'yp', 3, true));
    });

    if (chartRef.current) chartRef.current.destroy();
    chartRef.current = new Chart(ctx, {
      type: 'line',
      data: { datasets },
      plugins: [decor],
      options: {
        responsive: false,
        animation: false,
        events: [],
        parsing: false,
        layout: { padding: 0, autoPadding: false },
        plugins: { legend: { display: false }, title: { display: false }, tooltip: { enabled: false } },
        scales: {
          x: {
            type: 'linear',
            min: 0,
            max: 384,
            afterBuildTicks: (s: any) => { s.ticks = dayHours.map((v) => ({ value: v })); },
            afterFit: (s: any) => { s.height = 102; s.paddingLeft = 0; s.paddingRight = 0; },
            grid: { color: '#c0c0c0', drawTicks: false },
            border: { color: '#000000', width: 1 },
            ticks: {
              autoSkip: false,
              minRotation: 90,
              maxRotation: 90,
              labelOffset: 7,
              padding: 4,
              color: '#000000',
              font: tickFont,
              callback: (v: any) => dayLabels[dayHours.indexOf(v)] ?? '',
            },
          },
          y: {
            position: 'left',
            min: -37.5,
            max: 47.93,
            afterBuildTicks: (s: any) => { s.ticks = tempTicks.map((v) => ({ value: v })); },
            afterFit: (s: any) => { s.width = 50; s.paddingTop = 0; s.paddingBottom = 0; },
            grid: {
              color: (c: any) => (c.tick && c.tick.value === 0 ? 'rgba(0,0,0,0)' : '#c0c0c0'),
              drawTicks: false,
            },
            border: { color: '#000000', width: 1 },
            ticks: {
              autoSkip: false, crossAlign: 'center', padding: 14, labelOffset: 2.5,
              color: '#000000', font: tickFont,
            },
          },
          yp: {
            position: 'right',
            min: -7.5,
            max: 77.93,
            afterBuildTicks: (s: any) => { s.ticks = precipTicks.map((v) => ({ value: v })); },
            afterFit: (s: any) => { s.width = 50; s.paddingTop = 0; s.paddingBottom = 0; },
            grid: { drawOnChartArea: false, drawTicks: false },
            border: { color: '#000000', width: 1 },
            ticks: {
              autoSkip: false, crossAlign: 'far', padding: 12, labelOffset: 2.5,
              color: '#000000', font: tickFont,
            },
          },
        },
      } as any,
    });

    return () => {
      if (chartRef.current) chartRef.current.destroy();
      chartRef.current = null;
    };
  }, []);

  return (
    <div style={{ width: 740, height: 700, background: '#ffffff' }}>
      <canvas ref={canvasRef} width={740} height={700} style={{ display: 'block' }} />
    </div>
  );
}
